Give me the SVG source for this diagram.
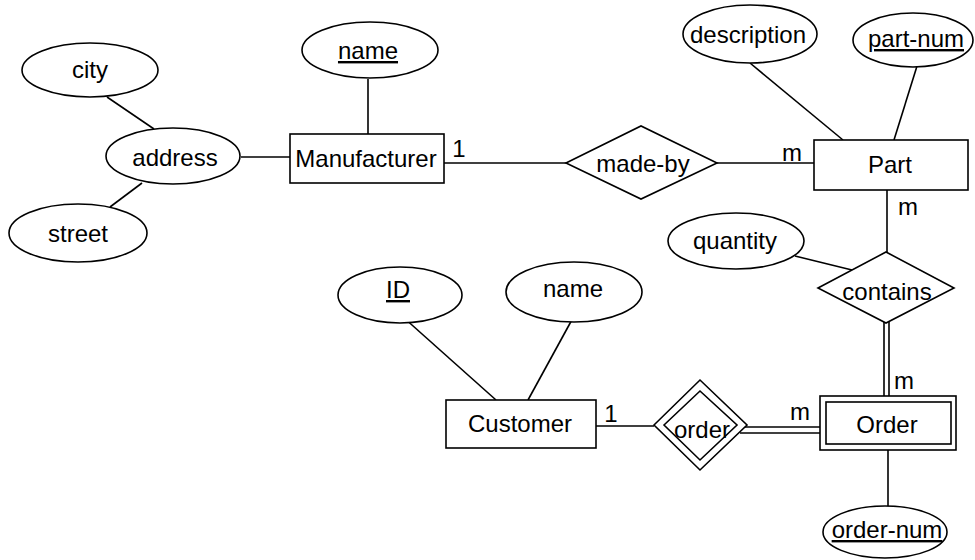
<svg xmlns="http://www.w3.org/2000/svg" width="975" height="560" viewBox="0 0 975 560">
<style>
.s{fill:#fff;stroke:#000;stroke-width:1.6}
.l{stroke:#000;stroke-width:1.6;fill:none}
text{font-family:"Liberation Sans",Arial,sans-serif;font-size:24px;fill:#000;text-anchor:middle}
.u{text-decoration:underline}
</style>
<rect width="975" height="560" fill="#fff"/>
<g id="connectors">
<line class="l" x1="107" y1="97" x2="154" y2="129"/>
<line class="l" x1="110" y1="207" x2="142" y2="183"/>
<line class="l" x1="241" y1="157" x2="290" y2="157"/>
<line class="l" x1="368" y1="79" x2="368" y2="134"/>
<line class="l" x1="444" y1="163" x2="566" y2="163"/>
<line class="l" x1="717" y1="163" x2="814" y2="163"/>
<line class="l" x1="750" y1="63" x2="843" y2="140"/>
<line class="l" x1="917" y1="66" x2="894" y2="140"/>
<line class="l" x1="887" y1="190" x2="887" y2="252"/>
<line class="l" x1="795" y1="256" x2="852" y2="270"/>
<line class="l" x1="884" y1="320" x2="884" y2="396"/>
<line class="l" x1="889" y1="320" x2="889" y2="396"/>
<line class="l" x1="888" y1="450" x2="888" y2="507"/>
<line class="l" x1="403" y1="317" x2="496" y2="400"/>
<line class="l" x1="574" y1="316" x2="528" y2="400"/>
<line class="l" x1="596" y1="426" x2="654" y2="426"/>
<line class="l" x1="740" y1="427" x2="820" y2="427"/>
<line class="l" x1="740" y1="433" x2="820" y2="433"/>
<text x="459" y="157">1</text>
<text x="792" y="161">m</text>
<text x="908" y="215">m</text>
<text x="904" y="389">m</text>
<text x="611" y="422">1</text>
<text x="800" y="420">m</text>
</g>
<g id="city"><ellipse class="s" cx="90" cy="70" rx="68" ry="27"/><text x="90" y="78">city</text></g>
<g id="address"><ellipse class="s" cx="173" cy="156" rx="67" ry="28"/><text x="175" y="166">address</text></g>
<g id="street"><ellipse class="s" cx="78" cy="233" rx="69" ry="29"/><text x="78" y="242">street</text></g>
<g id="mname"><ellipse class="s" cx="370" cy="50" rx="68" ry="28"/><text class="u" x="368" y="59">name</text></g>
<g id="manufacturer"><rect class="s" x="290" y="134" width="154" height="49"/><text x="366" y="167">Manufacturer</text></g>
<g id="madeby"><polygon class="s" points="566,163 641,126 717,163 641,199"/><text x="643" y="172">made-by</text></g>
<g id="part"><rect class="s" x="814" y="140" width="154" height="50"/><text x="890" y="173">Part</text></g>
<g id="description"><ellipse class="s" cx="750" cy="34" rx="67" ry="29"/><text x="748" y="43">description</text></g>
<g id="partnum"><ellipse class="s" cx="913" cy="40" rx="60" ry="27"/><text class="u" x="916" y="47">part-num</text></g>
<g id="quantity"><ellipse class="s" cx="736" cy="241" rx="68" ry="28"/><text x="735" y="249">quantity</text></g>
<g id="contains"><polygon class="s" points="818,288 886,252 954,288 886,323"/><text x="887" y="300">contains</text></g>
<g id="id"><ellipse class="s" cx="400" cy="295" rx="62" ry="28"/><text class="u" x="398" y="298">ID</text></g>
<g id="cname"><ellipse class="s" cx="574" cy="292" rx="68" ry="30"/><text x="573" y="297">name</text></g>
<g id="customer"><rect class="s" x="446" y="400" width="150" height="48"/><text x="520" y="432">Customer</text></g>
<g id="order"><polygon class="s" points="654,425 700,380 747,425 700,470"/><polygon class="s" points="664,425 700,391 737,425 700,460"/><text x="702" y="438">order</text></g>
<g id="Order"><rect class="s" x="820" y="396" width="136" height="54"/><rect class="s" x="826" y="402" width="125" height="42"/><text x="887" y="433">Order</text></g>
<g id="ordernum"><ellipse class="s" cx="885" cy="532" rx="62" ry="26"/><text class="u" x="887" y="538">order-num</text></g>
</svg>
